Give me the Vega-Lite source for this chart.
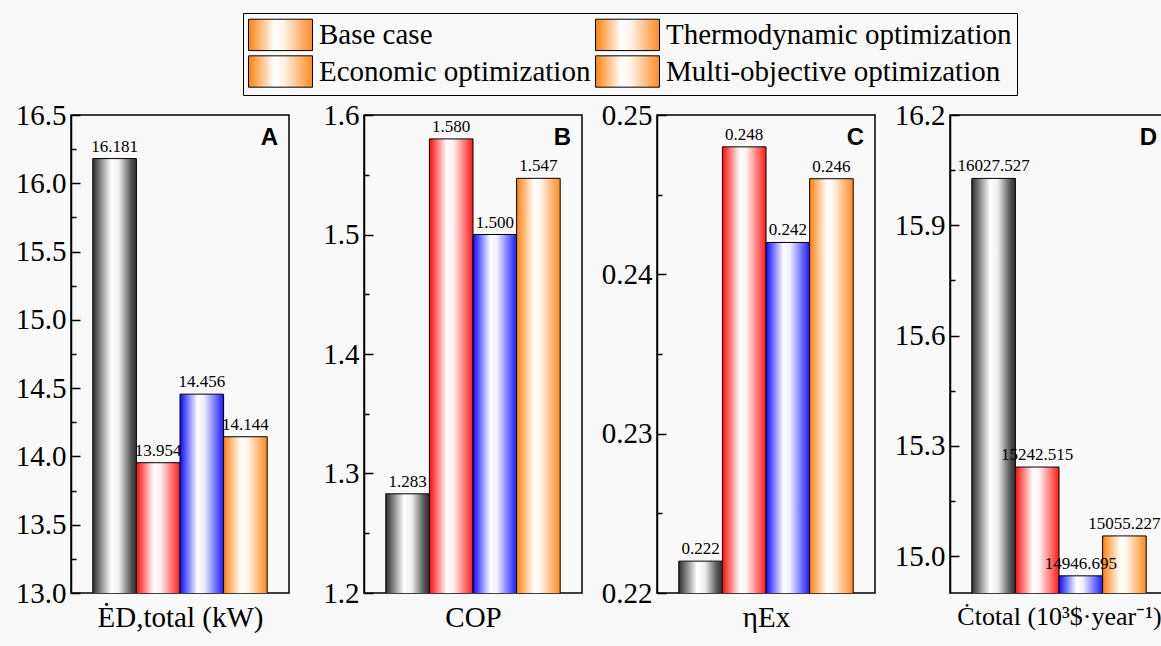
{
  "$schema": "https://vega.github.io/schema/vega-lite/v6.json",
  "background": "#f9f9f9",
  "padding": {"left": 10, "top": 12, "right": 0, "bottom": 14},
  "datasets": {
    "d": [
      {"panel": "A", "case": "Base case", "value": 16.181},
      {"panel": "A", "case": "Thermodynamic optimization", "value": 13.954},
      {"panel": "A", "case": "Economic optimization", "value": 14.456},
      {"panel": "A", "case": "Multi-objective optimization", "value": 14.144},
      {"panel": "B", "case": "Base case", "value": 1.283},
      {"panel": "B", "case": "Thermodynamic optimization", "value": 1.58},
      {"panel": "B", "case": "Economic optimization", "value": 1.5},
      {"panel": "B", "case": "Multi-objective optimization", "value": 1.547},
      {"panel": "C", "case": "Base case", "value": 0.222},
      {"panel": "C", "case": "Thermodynamic optimization", "value": 0.248},
      {"panel": "C", "case": "Economic optimization", "value": 0.242},
      {"panel": "C", "case": "Multi-objective optimization", "value": 0.246},
      {"panel": "D", "case": "Base case", "value": 16027.527},
      {"panel": "D", "case": "Thermodynamic optimization", "value": 15242.515},
      {"panel": "D", "case": "Economic optimization", "value": 14946.695},
      {"panel": "D", "case": "Multi-objective optimization", "value": 15055.227}
    ]
  },
  "data": {"name": "d"},
  "spacing": 13,
  "resolve": {"scale": {"x": "independent", "y": "independent", "stroke": "shared"}, "legend": {"stroke": "shared"}},
  "hconcat": [
    {
      "width": 218, "height": 478,
      "transform": [{"filter": "datum.panel === 'A'"}],
      "encoding": {
        "x": {"field": "case", "type": "nominal", "sort": ["Base case", "Thermodynamic optimization", "Economic optimization", "Multi-objective optimization"], "scale": {"paddingInner": 0, "paddingOuter": 0.5}, "axis": {"title": "ĖD,total (kW)", "labels": false, "ticks": false, "domain": false}},
        "y": {"field": "value", "type": "quantitative", "scale": {"domain": [13, 16.5], "nice": false, "zero": false},
          "axis": {"title": null, "values": [13, 13.25, 13.5, 13.75, 14, 14.25, 14.5, 14.75, 15, 15.25, 15.5, 15.75, 16, 16.25, 16.5],
            "labelExpr": "round(datum.value*100) % 50 == 0 ? format(datum.value, '.1f') : ''",
            "tickSize": {"condition": {"test": "round(datum.value*100) % 50 == 0", "value": -9}, "value": -5}}}
      },
      "layer": [
        {"mark": {"type": "bar", "strokeWidth": 1, "clip": true},
          "encoding": {
            "fill": {"condition": [
              {"test": "datum.case === 'Base case'", "value": {"gradient": "linear", "x1": 0, "y1": 0, "x2": 1, "y2": 0, "stops": [{"offset": 0, "color": "#2e2e2e"}, {"offset": 0.15, "color": "#777777"}, {"offset": 0.42, "color": "#ffffff"}, {"offset": 0.6, "color": "#eeeeee"}, {"offset": 0.88, "color": "#555555"}, {"offset": 1, "color": "#2e2e2e"}]}},
              {"test": "datum.case === 'Thermodynamic optimization'", "value": {"gradient": "linear", "x1": 0, "y1": 0, "x2": 1, "y2": 0, "stops": [{"offset": 0, "color": "#ff0a0a"}, {"offset": 0.4, "color": "#ffffff"}, {"offset": 0.55, "color": "#fff0f0"}, {"offset": 1, "color": "#ff1a1a"}]}},
              {"test": "datum.case === 'Economic optimization'", "value": {"gradient": "linear", "x1": 0, "y1": 0, "x2": 1, "y2": 0, "stops": [{"offset": 0, "color": "#0a0aff"}, {"offset": 0.4, "color": "#ffffff"}, {"offset": 0.55, "color": "#f0f0ff"}, {"offset": 1, "color": "#1a1aff"}]}}
            ], "value": {"gradient": "linear", "x1": 0, "y1": 0, "x2": 1, "y2": 0, "stops": [{"offset": 0, "color": "#ff800a"}, {"offset": 0.4, "color": "#ffffff"}, {"offset": 0.55, "color": "#fff4ea"}, {"offset": 1, "color": "#ff8a20"}]}},
            "stroke": {"field": "case", "type": "nominal",
              "scale": {"domain": ["Base case", "Thermodynamic optimization", "Economic optimization", "Multi-objective optimization"], "range": ["black", "black", "black", "black"]},
              "legend": {"orient": "none", "legendX": 172, "legendY": -102, "columns": 2, "direction": "horizontal", "title": null,
                "symbolType": "M-1,-0.98H3V0.98H-1Z", "symbolSize": 1024, "symbolStrokeWidth": 1,
                "labelFont": "Liberation Serif", "labelFontSize": 29, "labelColor": "black", "labelLimit": 500, "labelOffset": 38,
                "strokeColor": "black", "padding": 5, "columnPadding": 2, "rowPadding": 0}}
          }},
        {"mark": {"type": "text", "baseline": "bottom", "dy": -3, "font": "Liberation Serif", "fontSize": 17, "color": "black"},
          "encoding": {"text": {"field": "value", "type": "quantitative", "format": ".3f"}}},
        {"transform": [{"filter": "datum.case === 'Multi-objective optimization'"}],
          "mark": {"type": "text", "baseline": "alphabetic", "align": "center", "dx": 24, "font": "Liberation Sans", "fontSize": 24, "fontWeight": "bold", "color": "black"},
          "encoding": {"y": {"datum": 16.28}, "text": {"value": "A"}}}
      ]
    },
    {
      "width": 218, "height": 478,
      "transform": [{"filter": "datum.panel === 'B'"}],
      "encoding": {
        "x": {"field": "case", "type": "nominal", "sort": ["Base case", "Thermodynamic optimization", "Economic optimization", "Multi-objective optimization"], "scale": {"paddingInner": 0, "paddingOuter": 0.5}, "axis": {"title": "COP", "labels": false, "ticks": false, "domain": false}},
        "y": {"field": "value", "type": "quantitative", "scale": {"domain": [1.2, 1.6], "nice": false, "zero": false},
          "axis": {"title": null, "values": [1.2, 1.25, 1.3, 1.35, 1.4, 1.45, 1.5, 1.55, 1.6],
            "labelExpr": "round(datum.value*100) % 10 == 0 ? format(datum.value, '.1f') : ''",
            "tickSize": {"condition": {"test": "round(datum.value*100) % 10 == 0", "value": -9}, "value": -5}}}
      },
      "layer": [
        {"mark": {"type": "bar", "strokeWidth": 1, "clip": true},
          "encoding": {
            "fill": {"condition": [
              {"test": "datum.case === 'Base case'", "value": {"gradient": "linear", "x1": 0, "y1": 0, "x2": 1, "y2": 0, "stops": [{"offset": 0, "color": "#2e2e2e"}, {"offset": 0.15, "color": "#777777"}, {"offset": 0.42, "color": "#ffffff"}, {"offset": 0.6, "color": "#eeeeee"}, {"offset": 0.88, "color": "#555555"}, {"offset": 1, "color": "#2e2e2e"}]}},
              {"test": "datum.case === 'Thermodynamic optimization'", "value": {"gradient": "linear", "x1": 0, "y1": 0, "x2": 1, "y2": 0, "stops": [{"offset": 0, "color": "#ff0a0a"}, {"offset": 0.4, "color": "#ffffff"}, {"offset": 0.55, "color": "#fff0f0"}, {"offset": 1, "color": "#ff1a1a"}]}},
              {"test": "datum.case === 'Economic optimization'", "value": {"gradient": "linear", "x1": 0, "y1": 0, "x2": 1, "y2": 0, "stops": [{"offset": 0, "color": "#0a0aff"}, {"offset": 0.4, "color": "#ffffff"}, {"offset": 0.55, "color": "#f0f0ff"}, {"offset": 1, "color": "#1a1aff"}]}}
            ], "value": {"gradient": "linear", "x1": 0, "y1": 0, "x2": 1, "y2": 0, "stops": [{"offset": 0, "color": "#ff800a"}, {"offset": 0.4, "color": "#ffffff"}, {"offset": 0.55, "color": "#fff4ea"}, {"offset": 1, "color": "#ff8a20"}]}},
            "stroke": {"field": "case", "type": "nominal"}
          }},
        {"mark": {"type": "text", "baseline": "bottom", "dy": -3, "font": "Liberation Serif", "fontSize": 17, "color": "black"},
          "encoding": {"text": {"field": "value", "type": "quantitative", "format": ".3f"}}},
        {"transform": [{"filter": "datum.case === 'Multi-objective optimization'"}],
          "mark": {"type": "text", "baseline": "alphabetic", "align": "center", "dx": 24, "font": "Liberation Sans", "fontSize": 24, "fontWeight": "bold", "color": "black"},
          "encoding": {"y": {"datum": 1.575}, "text": {"value": "B"}}}
      ]
    },
    {
      "width": 218, "height": 478,
      "transform": [{"filter": "datum.panel === 'C'"}],
      "encoding": {
        "x": {"field": "case", "type": "nominal", "sort": ["Base case", "Thermodynamic optimization", "Economic optimization", "Multi-objective optimization"], "scale": {"paddingInner": 0, "paddingOuter": 0.5}, "axis": {"title": "ηEx", "labels": false, "ticks": false, "domain": false}},
        "y": {"field": "value", "type": "quantitative", "scale": {"domain": [0.22, 0.25], "nice": false, "zero": false},
          "axis": {"title": null, "values": [0.22, 0.225, 0.23, 0.235, 0.24, 0.245, 0.25],
            "labelExpr": "round(datum.value*1000) % 10 == 0 ? format(datum.value, '.2f') : ''",
            "tickSize": {"condition": {"test": "round(datum.value*1000) % 10 == 0", "value": -9}, "value": -5}}}
      },
      "layer": [
        {"mark": {"type": "bar", "strokeWidth": 1, "clip": true},
          "encoding": {
            "fill": {"condition": [
              {"test": "datum.case === 'Base case'", "value": {"gradient": "linear", "x1": 0, "y1": 0, "x2": 1, "y2": 0, "stops": [{"offset": 0, "color": "#2e2e2e"}, {"offset": 0.15, "color": "#777777"}, {"offset": 0.42, "color": "#ffffff"}, {"offset": 0.6, "color": "#eeeeee"}, {"offset": 0.88, "color": "#555555"}, {"offset": 1, "color": "#2e2e2e"}]}},
              {"test": "datum.case === 'Thermodynamic optimization'", "value": {"gradient": "linear", "x1": 0, "y1": 0, "x2": 1, "y2": 0, "stops": [{"offset": 0, "color": "#ff0a0a"}, {"offset": 0.4, "color": "#ffffff"}, {"offset": 0.55, "color": "#fff0f0"}, {"offset": 1, "color": "#ff1a1a"}]}},
              {"test": "datum.case === 'Economic optimization'", "value": {"gradient": "linear", "x1": 0, "y1": 0, "x2": 1, "y2": 0, "stops": [{"offset": 0, "color": "#0a0aff"}, {"offset": 0.4, "color": "#ffffff"}, {"offset": 0.55, "color": "#f0f0ff"}, {"offset": 1, "color": "#1a1aff"}]}}
            ], "value": {"gradient": "linear", "x1": 0, "y1": 0, "x2": 1, "y2": 0, "stops": [{"offset": 0, "color": "#ff800a"}, {"offset": 0.4, "color": "#ffffff"}, {"offset": 0.55, "color": "#fff4ea"}, {"offset": 1, "color": "#ff8a20"}]}},
            "stroke": {"field": "case", "type": "nominal"}
          }},
        {"mark": {"type": "text", "baseline": "bottom", "dy": -3, "font": "Liberation Serif", "fontSize": 17, "color": "black"},
          "encoding": {"text": {"field": "value", "type": "quantitative", "format": ".3f"}}},
        {"transform": [{"filter": "datum.case === 'Multi-objective optimization'"}],
          "mark": {"type": "text", "baseline": "alphabetic", "align": "center", "dx": 24, "font": "Liberation Sans", "fontSize": 24, "fontWeight": "bold", "color": "black"},
          "encoding": {"y": {"datum": 0.24812}, "text": {"value": "C"}}}
      ]
    },
    {
      "width": 218, "height": 478,
      "transform": [{"filter": "datum.panel === 'D'"}],
      "encoding": {
        "x": {"field": "case", "type": "nominal", "sort": ["Base case", "Thermodynamic optimization", "Economic optimization", "Multi-objective optimization"], "scale": {"paddingInner": 0, "paddingOuter": 0.5}, "axis": {"title": "Ċtotal (10³$·year⁻¹)", "titleFontSize": 26, "labels": false, "ticks": false, "domain": false}},
        "y": {"field": "value", "type": "quantitative", "scale": {"domain": [14900, 16200], "nice": false, "zero": false},
          "axis": {"title": null, "values": [15000, 15150, 15300, 15450, 15600, 15750, 15900, 16050, 16200],
            "labelExpr": "datum.value % 300 == 0 ? format(datum.value/1000, '.1f') : ''",
            "tickSize": {"condition": {"test": "datum.value % 300 == 0", "value": -9}, "value": -5}}}
      },
      "layer": [
        {"mark": {"type": "bar", "strokeWidth": 1, "clip": true},
          "encoding": {
            "fill": {"condition": [
              {"test": "datum.case === 'Base case'", "value": {"gradient": "linear", "x1": 0, "y1": 0, "x2": 1, "y2": 0, "stops": [{"offset": 0, "color": "#2e2e2e"}, {"offset": 0.15, "color": "#777777"}, {"offset": 0.42, "color": "#ffffff"}, {"offset": 0.6, "color": "#eeeeee"}, {"offset": 0.88, "color": "#555555"}, {"offset": 1, "color": "#2e2e2e"}]}},
              {"test": "datum.case === 'Thermodynamic optimization'", "value": {"gradient": "linear", "x1": 0, "y1": 0, "x2": 1, "y2": 0, "stops": [{"offset": 0, "color": "#ff0a0a"}, {"offset": 0.4, "color": "#ffffff"}, {"offset": 0.55, "color": "#fff0f0"}, {"offset": 1, "color": "#ff1a1a"}]}},
              {"test": "datum.case === 'Economic optimization'", "value": {"gradient": "linear", "x1": 0, "y1": 0, "x2": 1, "y2": 0, "stops": [{"offset": 0, "color": "#0a0aff"}, {"offset": 0.4, "color": "#ffffff"}, {"offset": 0.55, "color": "#f0f0ff"}, {"offset": 1, "color": "#1a1aff"}]}}
            ], "value": {"gradient": "linear", "x1": 0, "y1": 0, "x2": 1, "y2": 0, "stops": [{"offset": 0, "color": "#ff800a"}, {"offset": 0.4, "color": "#ffffff"}, {"offset": 0.55, "color": "#fff4ea"}, {"offset": 1, "color": "#ff8a20"}]}},
            "stroke": {"field": "case", "type": "nominal"}
          }},
        {"mark": {"type": "text", "baseline": "bottom", "dy": -3, "font": "Liberation Serif", "fontSize": 17, "color": "black"},
          "encoding": {"text": {"field": "value", "type": "quantitative", "format": ".3f"}}},
        {"transform": [{"filter": "datum.case === 'Multi-objective optimization'"}],
          "mark": {"type": "text", "baseline": "alphabetic", "align": "center", "dx": 24, "font": "Liberation Sans", "fontSize": 24, "fontWeight": "bold", "color": "black"},
          "encoding": {"y": {"datum": 16118}, "text": {"value": "D"}}}
      ]
    }
  ],
  "config": {
    "view": {"stroke": "black", "strokeWidth": 1.5},
    "axis": {"grid": false, "labelFont": "Liberation Serif", "labelFontSize": 29, "labelColor": "black", "titleFont": "Liberation Serif", "titleFontSize": 29, "titleFontWeight": "normal", "titleColor": "black", "domainColor": "black", "domainWidth": 1.5, "tickColor": "black", "tickWidth": 1.5, "labelPadding": 14},
    "axisY": {"minExtent": 60, "maxExtent": 60},
    "axisX": {"titlePadding": 10},
    "legend": {"strokeWidth": 1}
  }
}
